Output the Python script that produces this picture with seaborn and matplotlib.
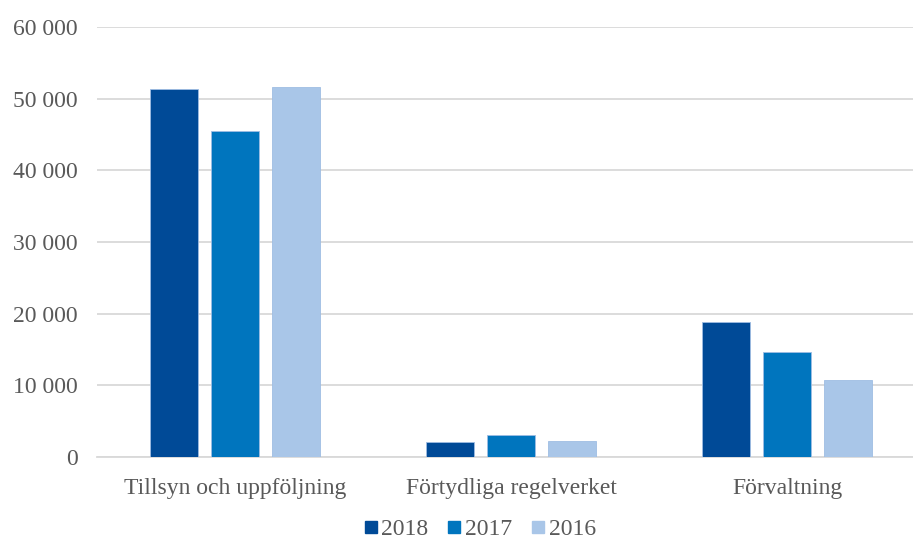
import numpy as np
import pandas as pd
import seaborn as sns
import matplotlib.pyplot as plt
from matplotlib.lines import Line2D
from matplotlib.ticker import FuncFormatter

categories = ['Tillsyn och uppföljning', 'Förtydliga regelverket', 'Förvaltning']
years = ['2018', '2017', '2016']
v2018 = [51300, 2100, 18800]
v2017 = [45500, 3100, 14700]
v2016 = [51600, 2200, 10700]
colors = ['#004A97', '#0075BE', '#A9C6E8']

rows = []
for year, vals in zip(years, [v2018, v2017, v2016]):
    for cat, v in zip(categories, vals):
        rows.append({'cat': cat, 'year': year, 'value': v})
df = pd.DataFrame(rows)

sns.set_style('white')
plt.rcParams['font.family'] = ['Liberation Serif', 'DejaVu Serif']
grey = '#595959'

fig = plt.figure(figsize=(9.13, 5.45), dpi=100)
ax = fig.add_axes([0.1062, 0.1615, 0.907, 0.789])
sns.barplot(data=df, x='cat', y='value', hue='year', hue_order=years,
            palette=colors, saturation=1, width=0.663, gap=0.213, errorbar=None,
            edgecolor='#9fbde3', linewidth=0.6, ax=ax, zorder=3)

ax.set_ylim(0, 60000)
ax.set_xlim(-0.5, 2.5)
ax.set_yticks(np.arange(0, 60001, 10000))
ax.yaxis.set_major_formatter(FuncFormatter(lambda v, p: f'{int(v):,}'.replace(',', ' ')))
ax.grid(axis='y', color='#D9D9D9', linewidth=1.3, zorder=0)
ax.set_axisbelow(True)
for s in ['top', 'right', 'left']:
    ax.spines[s].set_visible(False)
ax.spines['bottom'].set_color('#D9D9D9')
ax.spines['bottom'].set_linewidth(1.3)
ax.tick_params(axis='both', length=0, labelsize=17, labelcolor=grey)
ax.tick_params(axis='x', pad=15)
ax.tick_params(axis='y', pad=14)
ax.set_xlabel('')
ax.set_ylabel('')

handles = [Line2D([], [], marker='s', linestyle='', markersize=8, color=c) for c in colors]
ax.get_legend().remove()
fig.legend(handles, years, loc='lower center', bbox_to_anchor=(0.524, -0.03), ncol=3,
           frameon=False, fontsize=17, labelcolor=grey, handletextpad=0.05,
           columnspacing=0.7, handlelength=0.8)

fig.savefig('out.png', dpi=100)
